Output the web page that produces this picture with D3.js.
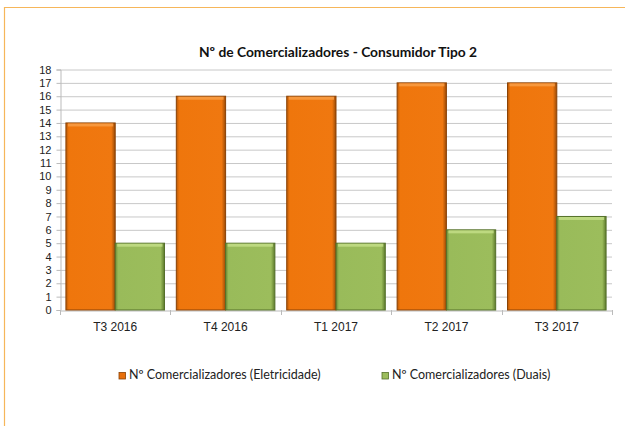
<!DOCTYPE html>
<html>
<head>
<meta charset="utf-8">
<script src="https://cdn.jsdelivr.net/npm/d3@7"></script>
<style>
  body { margin: 0; background: #fff; }
  svg { display: block; font-family: Lato, "Open Sans", sans-serif; }
</style>
</head>
<body>
<svg id="chart" width="625" height="426"></svg>
<script>
const categories = ["T3 2016", "T4 2016", "T1 2017", "T2 2017", "T3 2017"];
const eletricidade = [14, 16, 16, 17, 17];
const duais = [5, 5, 5, 6, 7];
const seriesNames = ["Nº Comercializadores (Eletricidade)", "Nº Comercializadores (Duais)"];
const yTicks = d3.range(0, 19);

const svg = d3.select("#chart");
const plotL = 60, plotR = 612, plotT = 69.5, plotB = 310;

// orange frame
svg.append("path")
  .attr("d", "M4.5,426 V7.5 H625")
  .attr("fill", "none")
  .attr("stroke", "#f6b65a")
  .attr("stroke-width", 1.2);

svg.append("text")
  .attr("x", 338)
  .attr("y", 57)
  .attr("text-anchor", "middle")
  .attr("font-size", 13.8)
  .attr("font-weight", "bold")
  .attr("fill", "#111")
  .text("Nº de Comercializadores - Consumidor Tipo 2");

const x = d3.scaleBand().domain(categories).range([plotL, plotR]).paddingInner(0).paddingOuter(0);
const xs = d3.scaleBand().domain([0, 1]).range([0, x.bandwidth()]).paddingInner(0).paddingOuter(0.12);
const y = d3.scaleLinear().domain([0, 18]).range([plotB, plotT]);

const defs = svg.append("defs");
function grad(id, stops) {
  const g = defs.append("linearGradient").attr("id", id).attr("x1", 0).attr("x2", 1).attr("y1", 0).attr("y2", 0);
  stops.forEach(s => g.append("stop").attr("offset", s[0]).attr("stop-color", s[1]));
}
grad("gOr", [[0, "#b85a08"], [0.06, "#ef760c"], [0.92, "#f07810"], [1, "#9a4a06"]]);
grad("gGr", [[0, "#6c8a35"], [0.06, "#99bb5a"], [0.92, "#9cbd5c"], [1, "#5d7a2c"]]);

// gridlines
svg.append("g")
  .selectAll("line")
  .data(yTicks.slice(1))
  .join("line")
  .attr("x1", plotL).attr("x2", plotR)
  .attr("y1", d => y(d) + 0.5).attr("y2", d => y(d) + 0.5)
  .attr("stroke", "#c8c8c8");

// y axis
const yAxis = svg.append("g")
  .attr("transform", `translate(${plotL + 0.5},0)`)
  .call(d3.axisLeft(y).tickValues(yTicks).tickSize(4).tickPadding(5));
yAxis.selectAll("line, path").attr("stroke", "#bbb");
yAxis.selectAll("text").attr("font-size", 11).attr("fill", "#222");

// x axis
const xAxis = svg.append("g")
  .attr("transform", `translate(0,${plotB + 0.5})`)
  .call(d3.axisBottom(x).tickSize(0).tickPadding(12));
xAxis.select(".domain").attr("stroke", "#bbb");
xAxis.selectAll("text").attr("font-size", 12).attr("fill", "#222");
svg.append("g")
  .selectAll("line")
  .data(d3.range(categories.length + 1))
  .join("line")
  .attr("x1", i => Math.round(plotL + i * x.bandwidth()) + 0.5)
  .attr("x2", i => Math.round(plotL + i * x.bandwidth()) + 0.5)
  .attr("y1", plotB).attr("y2", plotB + 5)
  .attr("stroke", "#bbb");

// bars
const series = [
  { values: eletricidade, fill: "url(#gOr)", stroke: "#8a4206", hi: "#f9a04a" },
  { values: duais, fill: "url(#gGr)", stroke: "#55702a", hi: "#c6e08a" }
];
series.forEach((s, si) => {
  const g = svg.append("g");
  const bars = g.selectAll("g").data(categories).join("g");
  bars.append("rect")
    .attr("x", d => x(d) + xs(si))
    .attr("y", (d, i) => y(s.values[i]))
    .attr("width", xs.bandwidth())
    .attr("height", (d, i) => plotB - y(s.values[i]))
    .attr("fill", s.fill)
    .attr("stroke", s.stroke)
    .attr("stroke-width", 1);
  bars.append("rect")
    .attr("x", d => x(d) + xs(si) + 2)
    .attr("y", (d, i) => y(s.values[i]) + 0.5)
    .attr("width", xs.bandwidth() - 4)
    .attr("height", 3)
    .attr("fill", s.hi)
    .attr("opacity", 0.8);
});

// legend
const legend = [
  { name: seriesNames[0], x: 119, fill: "#e8700c", stroke: "#8a4206" },
  { name: seriesNames[1], x: 382, fill: "#9cbd5c", stroke: "#55702a" }
];
const lg = svg.append("g").selectAll("g").data(legend).join("g")
  .attr("transform", d => `translate(${d.x},379)`);
lg.append("rect").attr("x", 0).attr("y", -6.5).attr("width", 6.5).attr("height", 6.5)
  .attr("fill", d => d.fill).attr("stroke", d => d.stroke).attr("stroke-width", 0.8);
lg.append("text").attr("x", 10).attr("y", 0).attr("font-size", 12.5).attr("fill", "#222")
  .text(d => d.name);
</script>
</body>
</html>
